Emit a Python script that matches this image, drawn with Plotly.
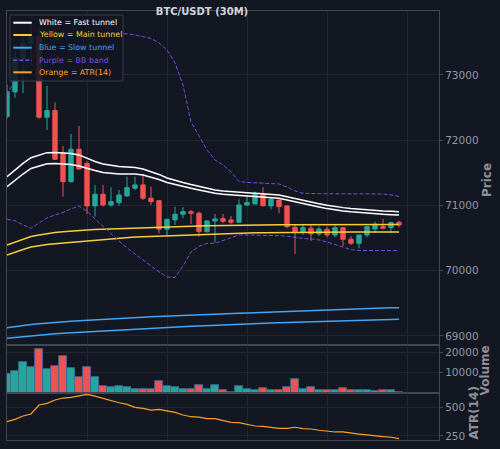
import plotly.graph_objects as go
from plotly.subplots import make_subplots
import pandas as pd

# ---------------- data ----------------
times = pd.date_range("2024-06-06 00:00", periods=50, freq="30min")

open_ = [72361, 72740, 73250, 73480, 73590, 72352, 72453, 71804, 71364, 71861,
         71646, 70992, 71171, 71007, 71042, 71145, 71263, 71314, 71110, 71073,
         70635, 70778, 70865, 70904, 70880, 70598, 70762, 70797, 70777, 70742,
         71007, 71022, 71171, 70992, 71084, 70992, 70665, 70589, 70650, 70563,
         70634, 70547, 70659, 70481, 70420, 70547, 70639, 70675, 70659, 70742]
high = [72850, 73380, 73620, 73780, 73720, 72831, 72581, 71912, 72096, 72218,
        71671, 71314, 71314, 71278, 71237, 71441, 71441, 71467, 71288, 71073,
        70792, 70981, 70972, 70931, 70904, 70777, 70869, 70869, 70839, 71094,
        71145, 71211, 71278, 71125, 71084, 70992, 70700, 70700, 70711, 70675,
        70675, 70700, 70659, 70532, 70547, 70675, 70751, 70793, 70751, 70767]
low = [72330, 72650, 72724, 73150, 72330, 72157, 71697, 71134, 71350, 71550,
       70869, 70828, 70981, 70981, 70996, 71134, 71237, 71084, 71007, 70573,
       70532, 70701, 70803, 70716, 70521, 70583, 70429, 70727, 70716, 70742,
       70992, 71022, 70981, 70941, 70880, 70650, 70256, 70547, 70455, 70532,
       70512, 70512, 70379, 70394, 70343, 70512, 70583, 70634, 70573, 70665]
close = [72744, 73260, 73480, 73590, 72352, 72453, 71708, 71364, 71861, 71559,
         70992, 71171, 71007, 71058, 71160, 71272, 71314, 71110, 71058, 70635,
         70788, 70865, 70904, 70880, 70598, 70762, 70792, 70757, 70742, 71007,
         71044, 71171, 70996, 71094, 70981, 70674, 70598, 70659, 70563, 70639,
         70547, 70659, 70481, 70420, 70547, 70675, 70711, 70650, 70736, 70700]

fast_a = [71441, 71544, 71643, 71732, 71774, 71809, 71812, 71807, 71797, 71774,
          71720, 71674, 71636, 71613, 71597, 71590, 71582, 71559, 71521, 71475,
          71421, 71383, 71352, 71321, 71291, 71260, 71237, 71222, 71209, 71202,
          71194, 71186, 71179, 71173, 71160, 71133, 71104, 71076, 71053, 71027,
          71002, 70981, 70966, 70953, 70941, 70930, 70923, 70915, 70909, 70904]
fast_b = [71288, 71386, 71481, 71566, 71605, 71640, 71643, 71638, 71628, 71605,
          71567, 71536, 71506, 71490, 71482, 71483, 71482, 71467, 71437, 71398,
          71352, 71319, 71291, 71263, 71236, 71206, 71186, 71171, 71158, 71151,
          71143, 71135, 71128, 71122, 71109, 71082, 71053, 71025, 71002, 70976,
          70951, 70930, 70915, 70902, 70890, 70879, 70872, 70864, 70858, 70853]
main_a = [70394, 70440, 70486, 70524, 70547, 70570, 70586, 70596, 70609, 70616,
          70624, 70630, 70635, 70639, 70644, 70647, 70651, 70655, 70659, 70664,
          70668, 70673, 70678, 70681, 70685, 70688, 70691, 70694, 70697, 70700,
          70701, 70702, 70703, 70704, 70704, 70705, 70705, 70706, 70706, 70706,
          70707, 70707, 70707, 70707, 70708, 70708, 70708, 70708, 70708, 70709]
main_b = [70241, 70287, 70325, 70363, 70386, 70402, 70414, 70425, 70435, 70443,
          70451, 70463, 70474, 70486, 70497, 70506, 70514, 70518, 70523, 70529,
          70535, 70541, 70546, 70550, 70555, 70560, 70564, 70569, 70572, 70575,
          70578, 70580, 70581, 70583, 70584, 70586, 70586, 70587, 70587, 70589,
          70589, 70590, 70590, 70592, 70592, 70593, 70593, 70594, 70594, 70594]
slow_a = [69126, 69145, 69160, 69174, 69186, 69198, 69207, 69217, 69224, 69232,
          69240, 69247, 69253, 69260, 69267, 69273, 69279, 69286, 69292, 69298,
          69304, 69310, 69315, 69319, 69324, 69328, 69333, 69338, 69342, 69347,
          69351, 69356, 69361, 69365, 69370, 69374, 69379, 69384, 69388, 69393,
          69398, 69402, 69407, 69411, 69416, 69421, 69424, 69427, 69430, 69433]
slow_b = [68964, 68977, 68990, 69002, 69013, 69023, 69033, 69042, 69049, 69057,
          69065, 69072, 69078, 69085, 69091, 69097, 69103, 69109, 69115, 69122,
          69128, 69134, 69140, 69146, 69152, 69158, 69164, 69171, 69177, 69183,
          69187, 69191, 69194, 69198, 69201, 69205, 69209, 69212, 69216, 69219,
          69223, 69227, 69230, 69234, 69237, 69241, 69245, 69248, 69252, 69255]
bb_upper = [72693, 72923, 73077, 73230, 73383, 73475, 73537, 73583, 73613, 73629,
            73636, 73639, 73639, 73636, 73636, 73629, 73613, 73590, 73560, 73491,
            73383, 73184, 72847, 72280, 72057, 71850, 71697, 71620, 71513, 71367,
            71352, 71349, 71344, 71340, 71329, 71283, 71222, 71186, 71179, 71179,
            71179, 71179, 71179, 71179, 71179, 71179, 71179, 71176, 71160, 71140]
bb_lower = [70788, 70765, 70701, 70650, 70731, 70808, 70854, 70892, 70946, 70992,
            70907, 70792, 70685, 70563, 70455, 70348, 70256, 70164, 70072, 69980,
            69903, 69896, 70072, 70287, 70371, 70420, 70420, 70463, 70509, 70547,
            70547, 70547, 70547, 70543, 70536, 70529, 70509, 70494, 70486, 70471,
            70440, 70402, 70356, 70322, 70310, 70307, 70307, 70307, 70307, 70307]
volume = [9170, 11100, 15150, 12700, 21650, 11600, 13550, 18060, 12400, 8050,
          12900, 8050, 3500, 2860, 3500, 2860, 1730, 2040, 2200, 6100,
          3200, 3000, 2040, 2200, 4170, 1900, 4170, 1400, 500, 3350,
          2040, 1500, 2500, 1500, 1300, 3000, 7080, 2040, 2860, 1500,
          1400, 1400, 2500, 1500, 1500, 1500, 800, 1300, 1500, 600]
atr = [375, 395, 424, 442, 520, 535, 564, 581, 587, 598,
       613, 598, 578, 557, 540, 526, 500, 491, 476, 482,
       468, 456, 433, 418, 415, 401, 401, 383, 369, 366,
       352, 337, 334, 326, 317, 317, 326, 314, 311, 300,
       291, 285, 285, 273, 267, 259, 250, 244, 239, 227]

price_ticks = [69000, 70000, 71000, 72000, 73000]
volume_ticks = [10000, 20000]
atr_ticks = [250, 500]

legend_labels = ["White = Fast tunnel", "Yellow = Main tunnel", "Blue = Slow tunnel",
                 "Purple = BB band", "Orange = ATR(14)"]
axis_titles = ["Price", "Volume", "ATR(14)"]

# ---------------- styles ----------------
BG = "#131722"
GRID = "#222633"
FRAME = "#434753"
TICK = "#9598a1"
TITLE_C = "#8d909a"
UP = "#26a69a"
DOWN = "#ef5350"
WHITE = "#ffffff"
YELLOW = "#f5cf3a"
BLUE = "#42a5f5"
PURPLE = "#6f4fe0"
ORANGE = "#ffa024"
FONT = "DejaVu Sans"

fig = make_subplots(rows=3, cols=1, shared_xaxes=True, vertical_spacing=0)

fig.add_trace(go.Candlestick(
    x=times, open=open_, high=high, low=low, close=close,
    increasing=dict(line=dict(color=UP, width=1), fillcolor=UP),
    decreasing=dict(line=dict(color=DOWN, width=1), fillcolor=DOWN),
    whiskerwidth=0, showlegend=False, name="BTC/USDT"), row=1, col=1)

def line(y, color, width=1.5, dash=None):
    return go.Scatter(x=times, y=y, mode="lines", showlegend=False,
                      line=dict(color=color, width=width, dash=dash))

fig.add_trace(line(slow_a, BLUE), row=1, col=1)
fig.add_trace(line(slow_b, BLUE), row=1, col=1)
fig.add_trace(line(main_a, YELLOW), row=1, col=1)
fig.add_trace(line(main_b, YELLOW), row=1, col=1)
fig.add_trace(line(fast_a, WHITE), row=1, col=1)
fig.add_trace(line(fast_b, WHITE), row=1, col=1)
fig.add_trace(line(bb_upper, PURPLE, 1, "4px,2px"), row=1, col=1)
fig.add_trace(line(bb_lower, PURPLE, 1, "4px,2px"), row=1, col=1)

vol_colors = [UP if c >= o else DOWN for o, c in zip(open_, close)]
fig.add_trace(go.Bar(x=times, y=volume, marker=dict(color=vol_colors,
              line=dict(color="#3a6a9a", width=0.8)), showlegend=False), row=2, col=1)
fig.add_trace(line(atr, ORANGE, 1.2), row=3, col=1)

t0 = times[0]
t_end = t0 + pd.Timedelta(minutes=30 * 54)

xcommon = dict(range=[t0, t_end], showgrid=True, gridcolor=GRID, gridwidth=1,
               tick0=t0, dtick=5 * 3600 * 1000, showticklabels=False, ticks="",
               showline=True, mirror=True, linecolor=FRAME, linewidth=1.2,
               zeroline=False, rangeslider=dict(visible=False))
for i in (1, 2, 3):
    fig.update_xaxes(**xcommon, row=i, col=1)

def ycommon(rng, tv):
    return dict(side="right", range=rng, tickvals=tv, tickformat="d", ticks="outside",
                ticklen=3, tickcolor=FRAME,
                tickfont=dict(family=FONT, size=10.5, color=TICK),
                showgrid=True, gridcolor=GRID, zeroline=False, showline=True,
                mirror=True, linecolor=FRAME, linewidth=1.2, automargin=False)

fig.update_layout(
    yaxis=dict(**ycommon([68860, 73980], price_ticks), domain=[0.2214, 1.0]),
    yaxis2=dict(**ycommon([0, 23700], volume_ticks), domain=[0.1096, 0.2214]),
    yaxis3=dict(**ycommon([215, 625], atr_ticks), domain=[0.0, 0.1096]),
)

annotations = []
# axis titles (right side, rotated)
for txt, xp, yp in zip(axis_titles, [1.1111, 1.1076, 1.0822], [0.606, 0.1632, 0.0629]):
    annotations.append(dict(xref="paper", yref="paper", x=xp, y=yp, xanchor="center",
                            yanchor="middle", text=txt, textangle=-90, showarrow=False,
                            font=dict(family=FONT, size=12, color=TITLE_C, weight="bold")))

# manual legend box (matplotlib-like)
shapes = [dict(type="rect", xref="paper", yref="paper", x0=0.0069, x1=0.2685,
               y0=0.8368, y1=0.9907, fillcolor="rgba(19,23,34,0.88)",
               line=dict(color="#3a3e4a", width=1), layer="above")]
leg_y = [0.9727, 0.9441, 0.9145, 0.8851, 0.8571]
leg_col = [WHITE, YELLOW, BLUE, PURPLE, ORANGE]
leg_dash = ["solid", "solid", "solid", "4px,2px", "solid"]
leg_w = [2, 2, 2, 1.5, 2]
for y, c, d, w, lab in zip(leg_y, leg_col, leg_dash, leg_w, legend_labels):
    shapes.append(dict(type="line", xref="paper", yref="paper", x0=0.0146, x1=0.0572,
                       y0=y, y1=y, line=dict(color=c, width=w, dash=d), layer="above"))
    annotations.append(dict(xref="paper", yref="paper", x=0.0688, y=y, xanchor="left",
                            yanchor="middle", text=lab, showarrow=False,
                            font=dict(family=FONT, size=7.9, color=c)))

fig.update_layout(
    template="none",
    width=500, height=449,
    margin=dict(l=7, r=61, t=11, b=9),
    paper_bgcolor=BG, plot_bgcolor=BG,
    bargap=0,
    boxgap=0.22,
    showlegend=False,
    shapes=shapes,
    annotations=annotations,
    title=dict(text="BTC/USDT (30M)", x=0.404, xanchor="center", xref="container",
               y=0.9755, yanchor="middle", yref="container",
               font=dict(family=FONT, size=10, color="#d1d4dc", weight="bold")),
    font=dict(family=FONT, color=TICK),
)

fig.write_html("out.html")
